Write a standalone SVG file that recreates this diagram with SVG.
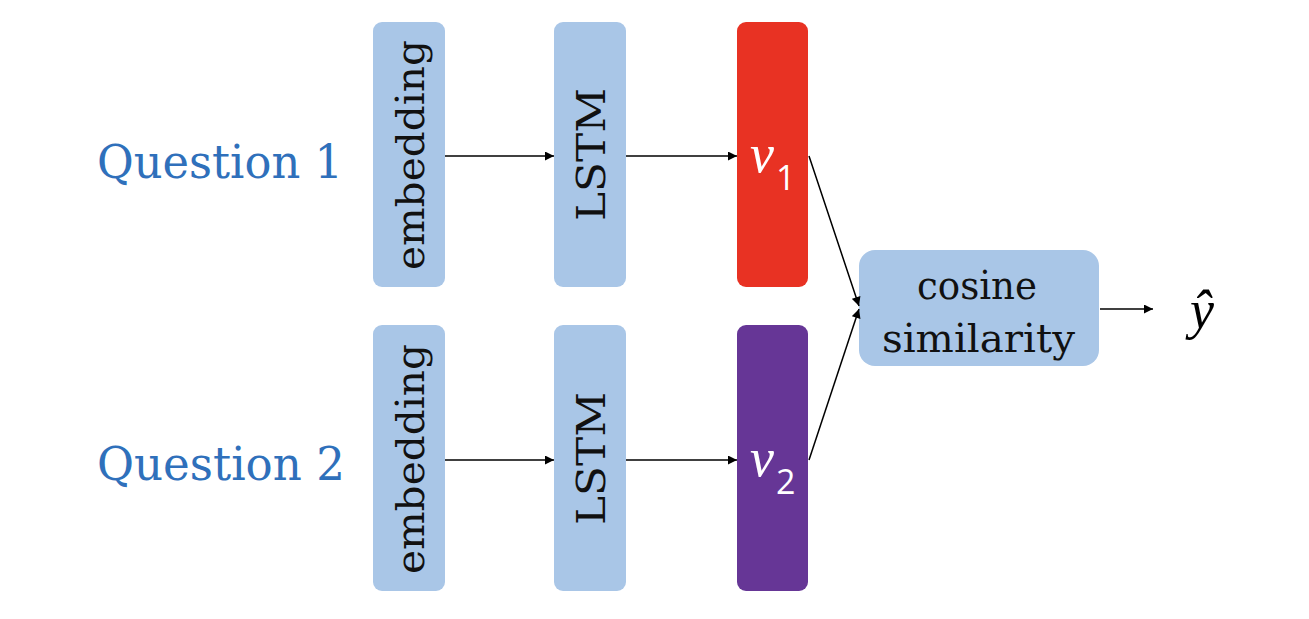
<svg xmlns="http://www.w3.org/2000/svg" width="1309" height="619" viewBox="0 0 1309 619">
<style>
.box{fill:#a9c6e7}
.lbl{font-family:"DejaVu Serif","Liberation Serif",serif;fill:#111;font-size:40px}
.q{font-family:"DejaVu Serif","Liberation Serif",serif;fill:#2f70bb;font-size:46px}
.v{font-family:"Liberation Serif","DejaVu Serif",serif;fill:#fff;font-style:italic;font-size:54px}
.sub{font-family:"Open Sans","DejaVu Sans",sans-serif;fill:#fff;font-size:34px;font-style:normal}
.edge{stroke:#000;stroke-width:1.5;fill:none;marker-end:url(#ah)}
</style>
<defs>
<marker id="ah" viewBox="0 0 10 10" refX="10" refY="5" markerWidth="10" markerHeight="9" markerUnits="userSpaceOnUse" orient="auto">
<path d="M0,0 L10,5 L0,10 z" fill="#000"/>
</marker>
</defs>
<rect width="1309" height="619" fill="#fff"/>
<g id="q1"><text class="q" x="97" y="178" textLength="246" lengthAdjust="spacingAndGlyphs">Question 1</text></g>
<g id="q2"><text class="q" x="97" y="480" textLength="248" lengthAdjust="spacingAndGlyphs">Question 2</text></g>
<g id="emb1"><rect class="box" x="373" y="22" width="72" height="265" rx="9"/><text class="lbl" transform="translate(424,270) rotate(-90)" textLength="230" lengthAdjust="spacingAndGlyphs">embedding</text></g>
<g id="lstm1"><rect class="box" x="554" y="22" width="72" height="265" rx="9"/><text class="lbl" transform="translate(605,221) rotate(-90)" textLength="133" lengthAdjust="spacingAndGlyphs">LSTM</text></g>
<g id="v1"><rect x="737" y="22" width="71" height="265" rx="9" fill="#e83223"/><text class="v" x="750" y="172">v<tspan class="sub" dx="2" dy="18">1</tspan></text></g>
<g id="emb2"><rect class="box" x="373" y="325" width="72" height="266" rx="9"/><text class="lbl" transform="translate(424,574) rotate(-90)" textLength="230" lengthAdjust="spacingAndGlyphs">embedding</text></g>
<g id="lstm2"><rect class="box" x="554" y="325" width="72" height="266" rx="9"/><text class="lbl" transform="translate(605,525) rotate(-90)" textLength="133" lengthAdjust="spacingAndGlyphs">LSTM</text></g>
<g id="v2"><rect x="737" y="325" width="71" height="266" rx="9" fill="#663696"/><text class="v" x="750" y="476">v<tspan class="sub" dx="2" dy="18">2</tspan></text></g>
<g id="cos"><rect class="box" x="859" y="250" width="240" height="116" rx="16"/><text class="lbl" x="917" y="299" textLength="120" lengthAdjust="spacingAndGlyphs">cosine</text><text class="lbl" x="882" y="352" textLength="193" lengthAdjust="spacingAndGlyphs">similarity</text></g>
<g id="yhat"><text x="1202" y="328" text-anchor="middle" font-family="Liberation Serif, serif" font-style="italic" font-size="54" fill="#000">ŷ</text></g>
<g id="connectors">
<line class="edge" x1="445" y1="156" x2="554" y2="156"/>
<line class="edge" x1="626" y1="156" x2="737" y2="156"/>
<line class="edge" x1="445" y1="460" x2="554" y2="460"/>
<line class="edge" x1="626" y1="460" x2="737" y2="460"/>
<line class="edge" x1="809" y1="156" x2="859" y2="306"/>
<line class="edge" x1="809" y1="460" x2="859" y2="309"/>
<line class="edge" x1="1100" y1="309" x2="1153" y2="309"/>
</g>
</svg>
